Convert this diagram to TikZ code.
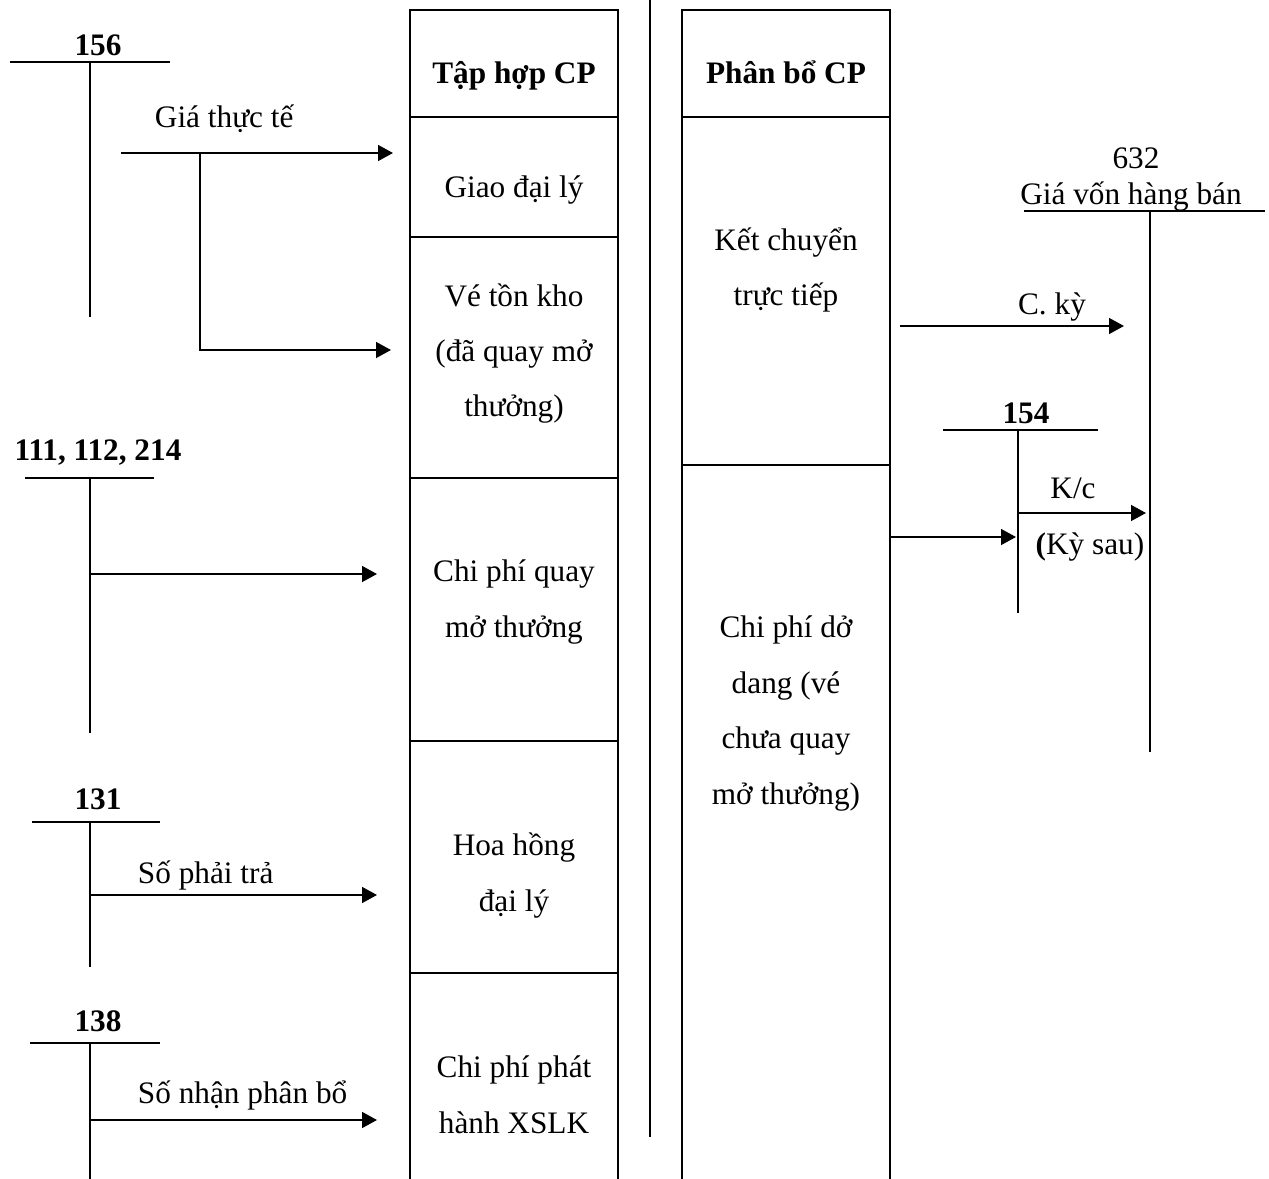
\documentclass[tikz,border=0pt]{standalone}
\usepackage{fontspec}
\setmainfont{Liberation Serif}
\usetikzlibrary{arrows.meta}
\begin{document}
\begin{tikzpicture}[x=0.02cm, y=-0.02cm, >={Triangle[length=8.5pt,width=9pt]}, line width=1.1pt,
	font=\fontsize{17.8}{31.5}\selectfont,
	txt/.style={align=center, inner sep=0pt, anchor=base},
	tk/.style={font=\fontsize{17.8}{31.5}\selectfont\bfseries, inner sep=0pt, anchor=base}]
	\useasboundingbox (0,0) rectangle (1269,1179);
	% cot tap hop chi phi
	\def\ax{410} \def\bx{618}
	\draw (\ax,1179)--(\ax,10)--(\bx,10)--(\bx,1179);
	\foreach \y in {117,237,478,741,973} \draw (\ax,\y)--(\bx,\y);
	\node[tk] (taphop) at (514,84) {Tập hợp CP};
	\node[txt] (giao) at (514,198) {Giao đại lý};
	\node[txt] (veton) at (514,417) {Vé tồn kho\\(đã quay mở\\thưởng)};
	\node[txt] (quay) at (514,637) {Chi phí quay\\mở thưởng};
	\node[txt] (hoahong) at (514,911) {Hoa hồng\\đại lý};
	\node[txt] (phathanh) at (514,1133) {Chi phí phát\\hành XSLK};
	% vach giua
	\draw (650,0)--(650,1137);
	% cot phan bo chi phi
	\def\cx{682} \def\dx{890}
	\draw (\cx,1179)--(\cx,10)--(\dx,10)--(\dx,1179);
	\foreach \y in {117,465} \draw (\cx,\y)--(\dx,\y);
	\node[tk] (phanbo) at (786,84) {Phân bổ CP};
	\node[txt] (ketchuyen) at (786,306) {Kết chuyển\\trực tiếp};
	\node[txt] (dodang) at (786,804) {Chi phí dở\\dang (vé\\chưa quay\\mở thưởng)};
	% tai khoan 156
	\node[tk] (tk156) at (98,56) {156};
	\draw (10,62)--(170,62) (90,62)--(90,317);
	\node[txt, anchor=base west] (giathucte) at (154,128) {Giá thực tế};
	\coordinate (a1) at (121,153); \coordinate (a2) at (393,153);
	\coordinate (r) at (200,153); \coordinate (a3) at (391,350);
	\draw[->] (a1)--(a2);
	\draw[->] (r)|-(a3);
	% tai khoan 111, 112, 214
	\node[tk] (tk111) at (98,460) {111, 112, 214};
	\draw (25,478)--(154,478) (90,478)--(90,733);
	\coordinate (b1) at (90,574); \coordinate (b2) at (377,574);
	\draw[->] (b1)--(b2);
	% tai khoan 131
	\node[tk] (tk131) at (98,809) {131};
	\draw (32,822)--(160,822) (90,822)--(90,967);
	\node[txt, anchor=base west] (sophaitra) at (137,883) {Số phải trả};
	\coordinate (c1) at (90,895); \coordinate (c2) at (377,895);
	\draw[->] (c1)--(c2);
	% tai khoan 138
	\node[tk] (tk138) at (98,1031) {138};
	\draw (30,1043)--(160,1043) (90,1043)--(90,1179);
	\node[txt, anchor=base west] (sonhan) at (137,1103) {Số nhận phân bổ};
	\coordinate (d1) at (90,1120); \coordinate (d2) at (377,1120);
	\draw[->] (d1)--(d2);
	% tai khoan 632
	\node[txt] (tk632) at (1136,169) {632};
	\node[txt] (giavon) at (1131,205) {Giá vốn hàng bán};
	\draw (1024,211)--(1265,211) (1150,211)--(1150,752);
	\node[txt] (cky) at (1052,315) {C. kỳ};
	\coordinate (e1) at (900,326); \coordinate (e2) at (1124,326);
	\draw[->] (e1)--(e2);
	% tai khoan 154
	\node[tk] (tk154) at (1026,423) {154};
	\draw (943,430)--(1098,430) (1018,430)--(1018,613);
	\coordinate (f1) at (\dx,537); \coordinate (f2) at (1016,537);
	\draw[->] (f1)--(f2);
	\node[txt] (kc) at (1073,499) {K/c};
	\coordinate (g1) at (1018,513); \coordinate (g2) at (1146,513);
	\draw[->] (g1)--(g2);
	\node[txt] (kysau) at (1090,554) {\textbf{(}Kỳ sau)};
\end{tikzpicture}
\end{document}
